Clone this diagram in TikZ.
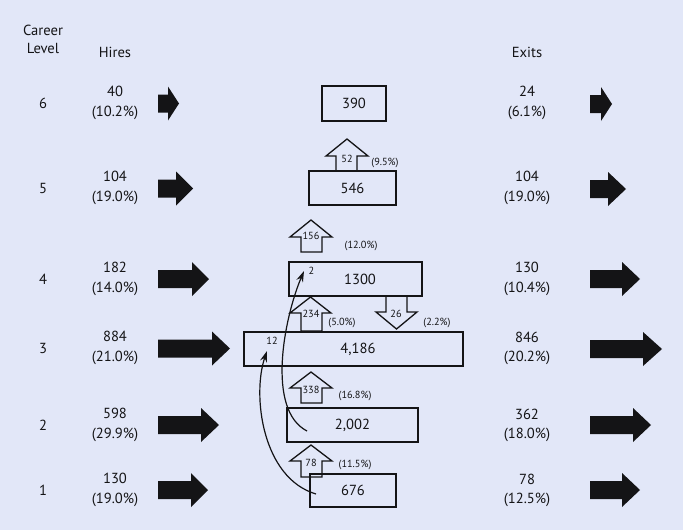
\documentclass[tikz,border=0pt]{standalone}
\usepackage{fontspec}
\setmainfont{PT Sans}
\usetikzlibrary{arrows.meta}
\definecolor{bgc}{RGB}{226,231,248}
\definecolor{ink}{RGB}{20,20,22}
% block arrow: x0, head start, tip, y
\newcommand\blkarrow[4]{\fill[ink] (#1,#4-9) -- (#2,#4-9) -- (#2,#4-17) -- (#3,#4) -- (#2,#4+17) -- (#2,#4+9) -- (#1,#4+9) -- cycle;}
% outlined vertical arrow: shaft left, shaft right, head left, head right, tip y, head base y, shaft end y
\newcommand\vertarr[7]{\draw[outl] (#1,#7) -- (#1,#6) -- (#3,#6) -- ({(#3+#4)/2},#5) -- (#4,#6) -- (#2,#6) -- (#2,#7) -- cycle;}
\tikzset{
  big/.style={inner sep=0pt, align=center, font=\fontsize{14.6}{19.5}\selectfont, text=ink},
  small/.style={inner sep=0pt, font=\fontsize{10.3}{12}\selectfont, text=ink},
  box/.style={draw=ink, line width=1.5pt, inner sep=0pt, font=\fontsize{14.6}{17}\selectfont, text=ink},
  outl/.style={draw=ink, line width=1.3pt, line join=miter},
  crv/.style={draw=ink, line width=1.2pt, -{Stealth[length=11pt,width=7pt]}}
}
\begin{document}
\begin{tikzpicture}[x=1pt,y=-1pt]
\useasboundingbox (0,0) rectangle (685,530);
\fill[white] (0,0) rectangle (685,530);
\fill[bgc] (0,0) rectangle (683,530);

% headers
\node[big] (hcar) at (43,30) {Career};
\node[big] (hlev) at (43,48.5) {Level};
\node[big] (hhir) at (115,52) {Hires};
\node[big] (hexi) at (527,52) {Exits};

% levels
\node[big] (l6) at (43,103) {6};
\node[big] (l5) at (43,188) {5};
\node[big] (l4) at (43,279) {4};
\node[big] (l3) at (43,348) {3};
\node[big] (l2) at (43,425) {2};
\node[big] (l1) at (43,490) {1};

% hires
\node[big] (h6) at (115,103) {40\\(10.2\%)};
\node[big] (h5) at (115,188) {104\\(19.0\%)};
\node[big] (h4) at (115,279) {182\\(14.0\%)};
\node[big] (h3) at (115,348) {884\\(21.0\%)};
\node[big] (h2) at (115,425) {598\\(29.9\%)};
\node[big] (h1) at (115,490) {130\\(19.0\%)};

% exits
\node[big] (e6) at (527,103) {24\\(6.1\%)};
\node[big] (e5) at (527,188) {104\\(19.0\%)};
\node[big] (e4) at (527,279) {130\\(10.4\%)};
\node[big] (e3) at (527,348.5) {846\\(20.2\%)};
\node[big] (e2) at (527,425.5) {362\\(18.0\%)};
\node[big] (e1) at (527,490.5) {78\\(12.5\%)};

% block arrows left
\blkarrow{158}{168}{179}{103.5}
\blkarrow{158}{176}{193}{188.5}
\blkarrow{158}{192}{209}{279}
\blkarrow{158}{212}{230}{348.5}
\blkarrow{158}{201}{219}{425}
\blkarrow{158}{191}{208}{490}
% block arrows right
\blkarrow{590}{601}{612}{104}
\blkarrow{590}{608}{626}{189}
\blkarrow{590}{622}{640}{279}
\blkarrow{590}{643}{662}{349}
\blkarrow{590}{633}{651}{425}
\blkarrow{590}{622}{640}{490}

% boxes
\node[box, minimum width=64pt, minimum height=35pt] (b6) at (354,103.5) {390};
\node[box, minimum width=87pt, minimum height=34pt] (b5) at (352.5,188) {546};
\node[box, minimum width=133pt, minimum height=34pt] (b4) at (355.5,279) {\hspace*{9pt}1300};
\node[box, minimum width=219pt, minimum height=34pt] (b3) at (353.5,349) {\hspace*{9pt}4,186};
\node[box, minimum width=131pt, minimum height=34pt] (b2) at (352.5,425) {2,002};
\node[box, minimum width=86pt, minimum height=33pt] (b1) at (353,490.5) {676};

% promotion / demotion arrows
\vertarr{336}{357}{326}{368}{139}{156}{171}
\vertarr{301}{322}{290}{332}{220}{237}{252}
\vertarr{301}{322}{290}{331}{297}{313}{331}
\vertarr{301}{322}{290}{332}{372}{388}{403}
\vertarr{301}{322}{290}{332}{445}{461}{477}
\vertarr{386}{407}{376}{417}{329}{312}{296}

\node[small] (a52) at (347,158.5) {52};
\node[small] (a156) at (311,236) {156};
\node[small] (a234) at (311,314) {234};
\node[small] (a338) at (311,390) {338};
\node[small] (a78) at (311,463) {78};
\node[small] (a26) at (396,314) {26};

\node[small] (p52) at (385,163) {(9.5\%)};
\node[small] (p156) at (361,246) {(12.0\%)};
\node[small] (p234) at (342,323) {(5.0\%)};
\node[small] (p26) at (437,323) {(2.2\%)};
\node[small] (p338) at (355,396) {(16.8\%)};
\node[small] (p78) at (355,465) {(11.5\%)};

% skip-level labels and curves
\node[small] (n2) at (311.5,271) {2};
\node[small] (n12) at (272,341) {12};
\coordinate (c1s) at (307,431);
\coordinate (c1e) at (304,271);
\coordinate (c2s) at (316,494);
\coordinate (c2e) at (267,351);
\draw[crv] (c1s) .. controls (266,410) and (284,318) .. (c1e);
\draw[crv] (c2s) .. controls (262,478) and (252,395) .. (c2e);
\end{tikzpicture}
\end{document}
